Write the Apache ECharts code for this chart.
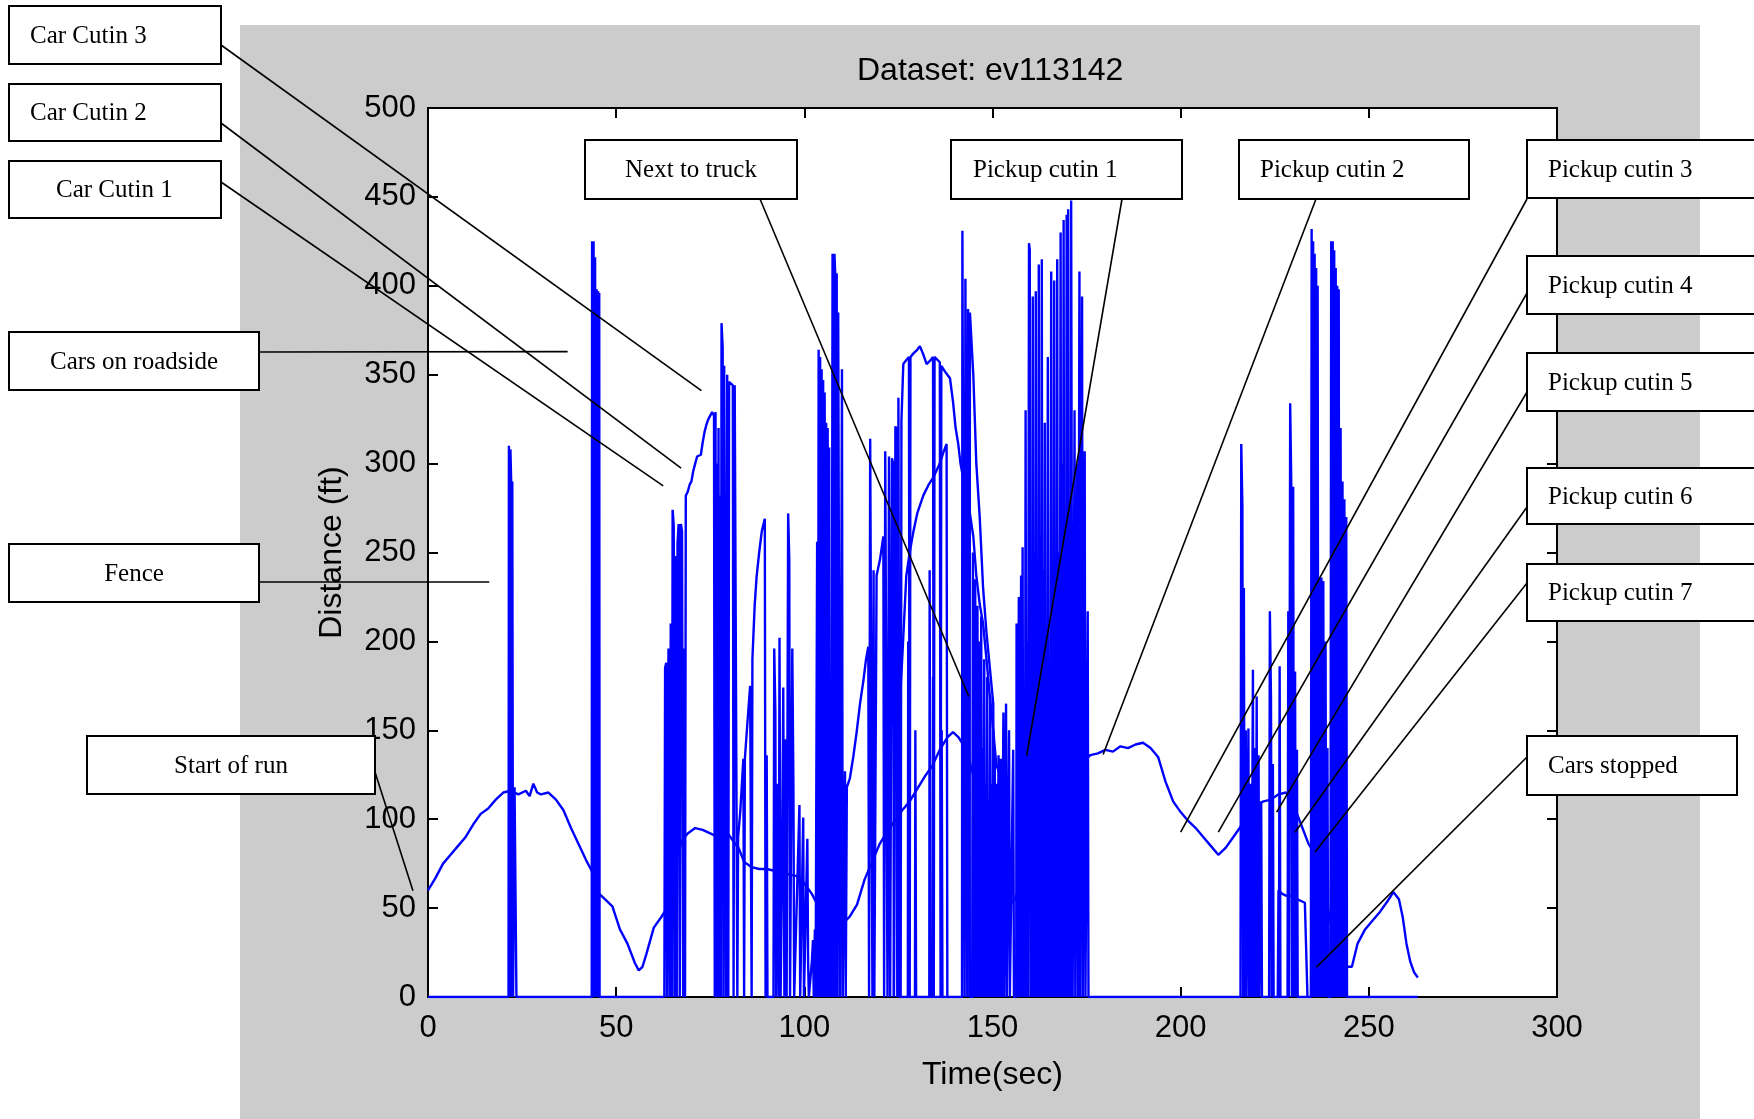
<!DOCTYPE html>
<html><head><meta charset="utf-8">
<script src="https://cdn.jsdelivr.net/npm/echarts@6/dist/echarts.min.js"></script>
<style>html,body{margin:0;padding:0;background:#fff}#c{width:1754px;height:1119px}</style>
</head><body><div id="c"></div>
<script>
// ---------------- DATA ----------------
const xTicks = [0, 50, 100, 150, 200, 250, 300];
const yTicks = [0, 50, 100, 150, 200, 250, 300, 350, 400, 450, 500];

// main (lead vehicle) track
const leadTime = [0,2,4,6,8,10,12,14,16,18,20,22,24,26,27,28,29,30,32,34,36,38,40,42,43.5,45.5,47,49,51,53,55,56,57,58,60,62,63.5,64.5,66,67.5,69,71,73,75,77,79,81,82.5,84,86,88,90,92,94,96,98,100,102,104,106,108,110,112,114,116,118,120,122,124,126,128,130,132,134,136,138,139.5,141,143,145,147,149,151,153,154.5,156,158,160,162,164,166,168,170,172,174,176,178,180,182,184,186,188,190,192,194,196,198,200,202,204,206,208,210,212,214,216,218,220,222,224,226,228,230,232,234,236,238,240,242,244,245.5,247,249,251,253,255,256.5,258,259,260,261,262,263];
const leadDist = [60,67,75,80,85,90,97,103,106,111,115,116,114,116,113,120,115,114,115,111,105,95,86,77,71,58,55,51,38,30,19,15,17,24,39,45,50,57,78,88,92,95,94,92,90,94,88,84,76,73,72,72,71,70,69,68,64,58,50,43,42,41,45,52,66,76,86,93,99,105,110,117,124,130,139,146,149,146,139,124,116,106,80,58,52,55,67,77,84,92,98,110,122,128,132,136,137,139,138,141,140,142,143,140,135,121,110,104,99,95,90,85,80,84,90,96,102,108,110,111,114,115,108,97,86,80,62,40,25,17,17,30,38,43,48,54,59,55,45,30,20,14,11];

// other radar targets: [time, distance] samples, 0 = no target
const spikesEarly = [[21.4,0],[21.5,310],[21.8,0],[21.9,308],[22.1,290],[22.3,0],[22.4,290],[22.6,0],[22.9,0],[23.0,118],[23.4,117],[23.5,0],
 [43.5,0],[43.6,425],[43.8,0],[44.0,425],[44.2,0],[44.4,416],[44.6,0],[44.8,398],[45.0,0],[45.2,397],[45.4,0],[45.5,396],[45.6,0]];
const cutinLadder = [[62.8,0],[63.0,185],[63.3,188],[63.5,0],[63.8,0],[63.9,196],[64.2,0],[64.5,210],[64.8,0],[65.0,274],[65.3,265],[65.5,0],[65.8,248],[66.1,0],[66.3,255],[66.6,266],[66.9,0],[67.2,266],[67.5,262],[67.8,0],[68.0,196],[68.3,0],[68.5,282],[69.0,284],[69.5,288],[70.0,290],[70.5,296],[71.0,300],[71.5,304],[72.0,305],[72.5,305],[73.0,312],[73.5,318],[74.0,322],[74.5,325],[75.0,327],[75.5,329],[76.0,327],[76.2,0],[76.4,329],[76.6,0],[76.8,300],[77.0,0],[77.2,320],[77.4,0],[77.6,282],[77.8,0],[78.0,379],[78.3,365],[78.5,0],[78.7,355],[79.0,355],[79.2,0],[79.5,350],[79.8,0],[80.0,346],[80.5,346],[81.0,344],[81.2,0],[81.5,344],[82.0,344],[82.2,0]];
const truckZone = [[82.3,0],[82.4,90],[83.0,105],[83.8,134],[84.0,0],[84.2,134],[84.8,152],[85.6,175],[86.0,0],[86.2,190],[86.8,220],[87.3,236],[88.0,250],[88.7,262],[89.5,269],[89.7,0],[90.0,136],[90.2,0],[91.8,0],[92.0,196],[92.3,161],[92.5,0],[93.0,120],[93.2,0],[93.4,202],[93.7,0],[94.2,100],[94.4,174],[94.7,0],[95.0,145],[95.3,0],[95.7,272],[96.0,246],[96.2,0],[96.8,196],[97.1,118],[97.3,0],[98.7,108],[98.9,0],[99.7,101],[99.9,0],[100.8,89],[101.0,20],[101.2,0],[102.0,20],[102.3,32],[102.5,0],[102.8,38],[103.0,0],[103.4,256],[103.6,0],[103.8,364],[104.0,0],[104.2,360],[104.4,0],[104.6,353],[104.8,0],[105.0,347],[105.2,0],[105.4,340],[105.6,0],[105.8,323],[106.0,0],[106.2,320],[106.4,0],[106.6,309],[106.8,0],[107.0,149],[107.2,0],[107.5,418],[107.8,0],[108.0,418],[108.2,407],[108.4,0],[108.6,407],[108.8,0],[109.0,385],[109.3,385],[109.5,0],[109.7,123],[110.0,353],[110.2,0],[110.8,127],[111.0,0],
 [111.2,0],[111.3,118],[112.1,123],[113.0,135],[113.9,149],[114.8,165],[115.7,178],[116.4,190],[117.0,197],[117.2,0],[117.5,314],[117.9,314],[118.1,0],[118.4,240],[118.6,0],[119.2,237],[120.1,246],[121.0,259],[121.2,0],[121.5,307],[121.9,307],[122.1,0],[122.5,304],[122.8,0],[123.3,303],[123.6,300],[123.8,0],[124.2,321],[124.5,319],[124.7,0],[125.0,337],[125.3,0]];
const midZone = [[127.5,0],[127.6,200],[127.8,0],[129.4,0],[129.5,150],[129.7,0],[133.2,0],[133.3,240],[133.5,0],[134.1,0],[134.2,180],[134.4,0],[136.4,0],[136.5,150],[136.7,0],[141.9,0],[142.0,431],[142.4,430],[142.6,0],[142.8,404],[143.1,404],[143.3,0],[143.5,387],[143.8,387],[144.0,0],[144.6,0],[144.8,250],[145.0,0],[145.4,235],[145.6,0],[146.0,220],[146.2,0],[146.6,200],[146.8,0],[147.0,214],[147.2,0],[147.4,140],[147.6,0],[147.8,190],[148.0,0],[148.2,120],[148.4,0],[148.6,180],[148.8,0],[149.0,110],[149.2,0],[149.4,169],[149.6,0],[149.8,120],[150.0,0],[150.2,150],[150.4,0],[150.6,140],[150.8,0],[151.0,120],[151.2,0],[151.6,136],[151.8,0],[152.2,134],[152.4,0],[152.9,160],[153.1,0],[153.6,165],[153.8,0],[154.4,150],[154.6,0],[155.5,139],[155.7,0],[156.3,0],[156.4,210],[156.6,0],[157.0,225],[157.2,0],[157.6,237],[157.8,0]];
const pickupZoneA = [[158.0,253],[158.2,0],[158.4,150],[158.6,0],[158.8,330],[159.0,0],[159.2,200],[159.4,0],[159.7,424],[159.9,420],[160.1,0],[160.3,220],[160.5,0],[160.7,394],[160.9,0],[161.1,250],[161.3,0],[161.5,397],[161.7,0],[161.9,230],[162.1,0],[162.3,412],[162.5,0],[162.7,260],[162.9,0],[163.1,415],[163.3,0],[163.5,240],[163.7,0],[163.9,323],[164.1,0],[164.3,180],[164.5,0],[164.7,360],[164.9,0],[165.1,150],[165.3,0],[165.6,408],[165.8,0],[166.0,200],[166.2,0],[166.4,403],[166.6,0],[166.8,170],[167.0,0],[167.2,415],[167.4,0],[167.6,250],[167.8,0],[168.1,430],[168.3,0],[168.5,300],[168.7,0],[168.9,437],[169.1,0],[169.3,200],[169.5,0],[169.7,440],[169.9,0],[170.1,443],[170.3,0],[170.5,260],[170.7,0],[170.9,448],[171.1,449],[171.3,0],[171.8,330],[172.0,0],[172.5,300],[172.7,0],[173.1,408],[173.3,0],[173.8,394],[174.0,0],[174.5,307],[174.7,0],[175.3,217],[175.5,0]];
const pickupZoneB = [[215.9,0],[216.1,311],[216.4,276],[216.6,0],[216.8,230],[217.0,0],[217.3,150],[217.5,0],[218.0,151],[218.2,0],[218.6,120],[218.8,0],[219.2,184],[219.4,0],[219.7,140],[219.9,0],[220.2,169],[220.4,0],[220.7,136],[220.9,0],[221.4,110],[221.6,0],[223.5,0],[223.7,217],[224.0,168],[224.2,0],[224.5,131],[224.7,0],[226.1,0],[226.3,186],[226.5,0],[228.4,0],[228.6,217],[228.8,0],[229.1,334],[229.4,287],[229.6,0],[229.9,287],[230.1,0],[230.4,183],[230.6,0],[230.9,139],[231.1,0],[234.6,0],[234.8,432],[235.0,0],[235.2,425],[235.4,0],[235.6,418],[235.8,0],[236.0,410],[236.2,0],[236.4,400],[236.6,0],[236.9,236],[237.1,0],[237.4,236],[237.6,0],[237.9,234],[238.1,0],[238.5,200],[238.7,0],[239.0,140],[239.2,0],[239.8,0],[240.0,425],[240.2,0],[240.4,425],[240.6,0],[240.8,420],[241.0,0],[241.2,410],[241.4,0],[241.6,400],[241.8,0],[242.0,398],[242.2,0],[242.5,320],[242.7,0],[243.0,290],[243.2,0],[243.5,280],[243.7,0],[244.0,270],[244.2,0]];
const baselineEnds = [[0,0],[263,0]];
const plateauTrack = [[125.6,0],[125.8,324],[126.3,356],[127.0,358],[127.8,360],[128.0,0],[128.2,360],[129.0,362],[130.0,364],[130.7,366],[131.5,362],[132.5,356],[133.5,358],[134.2,360],[134.4,0],[134.6,360],[135.1,360],[136.0,357],[136.2,0],[136.4,355],[137.3,352],[138.0,350],[138.7,348],[139.5,335],[140.2,320],[140.9,311],[141.5,300],[142.2,292],[143.1,282],[144.0,272],[144.9,259],[145.7,237],[146.6,221],[147.5,210],[148.4,190],[149.3,169],[150.2,150],[151.0,131],[151.9,125],[152.4,125],[152.6,0]];
const riserTrack = [[123.8,0],[124.0,120],[125.0,150],[126.0,190],[127.1,237],[128.0,250],[129.0,262],[130.0,272],[131.6,282],[133.0,288],[134.2,292],[135.1,296],[136.0,300],[136.9,306],[137.8,311],[138.0,0]];
const fallTrack = [[143.9,0],[144.0,385],[144.9,350],[145.7,300],[146.6,270],[147.5,230],[148.4,205],[149.3,185],[150.2,165],[150.5,0]];
const lowTrack = [[225.8,0],[226.0,60],[227.0,58],[228.0,57],[229.0,57],[230.0,56],[231.0,55],[232.0,54],[233.0,53],[233.5,52],[233.7,0]];

// callouts: label text and the data point each leader line points to
const calloutText = ['Car Cutin 3','Car Cutin 2','Car Cutin 1','Cars on roadside','Fence','Start of run','Next to truck','Pickup cutin 1','Pickup cutin 2','Pickup cutin 3','Pickup cutin 4','Pickup cutin 5','Pickup cutin 6','Pickup cutin 7','Cars stopped'];
const calloutTime = [72.65, 67.25, 62.5, 37.1, 16.3, -4.0, 143.7, 159.1, 179.4, 200.0, 210.0, 225.5, 230.4, 235.7, 236.1];
const calloutDist = [341, 297.5, 287.5, 363, 233.4, 59.8, 169, 135.8, 136.4, 92.7, 92.7, 104, 92.7, 81.5, 16.8];

// ---------------- LAYOUT (pixels) ----------------
const boxLayout = [
  [9,6,221,64,'left',30],[9,84,221,141,'left',30],[9,161,221,218,'left',56],
  [9,332,259,390,'center'],[9,544,259,602,'center'],[87,736,375,794,'center'],
  [585,140,797,199,'center'],[951,140,1182,199,'left',973],[1239,140,1469,199,'left',1260],
  [1527,140,1760,198,'left',1548],[1527,256,1760,314,'left',1548],[1527,353,1760,411,'left',1548],
  [1527,468,1760,524,'left',1548],[1527,564,1760,621,'left',1548],[1527,736,1737,795,'left',1548]
];
const leaderStart = [[221,45],[221,123],[221,182],[259,352],[259,582],[375,772],[760,199],[1122,199],[1316,199],[1527,199],[1527,293],[1527,392],[1527,507],[1527,583],[1527,757]];

// ---------------- CHART ----------------
const BLUE = '#0000ff';
const leadData = leadTime.map((t, i) => [t, leadDist[i]]);
const otherData = [baselineEnds[0]].concat(spikesEarly, cutinLadder, truckZone, midZone, pickupZoneA, pickupZoneB, [baselineEnds[1]]);

function trackSeries(name, data) {
  return { name, type: 'line', data, xAxisIndex: 0, yAxisIndex: 0, symbol: 'none', showSymbol: false,
    lineStyle: { color: BLUE, width: 2.4 }, itemStyle: { color: BLUE }, silent: true, animation: false, z: 3, clip: true };
}

const chart = echarts.init(document.getElementById('c'), null, { renderer: 'canvas' });
const axisFont = { fontFamily: 'Liberation Sans, Arial, sans-serif', color: '#000' };
const lineStyleBlack = { color: '#000', width: 2 };

chart.setOption({
  backgroundColor: '#ffffff',
  animation: false,
  title: {
    text: 'Dataset: ev113142', left: 852, top: 50,
    textStyle: { fontSize: 32, fontWeight: 'normal', fontFamily: 'Liberation Sans, Arial, sans-serif', color: '#000' }
  },
  grid: { left: 428, top: 108, right: 197, bottom: 122, show: true, backgroundColor: '#ffffff', borderColor: '#000', borderWidth: 2, containLabel: false },
  xAxis: [
    { type: 'value', position: 'bottom', min: 0, max: 300, interval: 50,
      name: 'Time(sec)', nameLocation: 'middle', nameGap: 62,
      nameTextStyle: Object.assign({ fontSize: 32 }, axisFont),
      axisLine: { show: true, onZero: false, lineStyle: lineStyleBlack },
      axisTick: { show: true, inside: true, length: 10, lineStyle: lineStyleBlack },
      axisLabel: Object.assign({ fontSize: 31, margin: 16, formatter: v => xTicks.includes(v) ? String(v) : '' }, axisFont),
      splitLine: { show: false } },
    { type: 'value', position: 'top', min: 0, max: 300, interval: 50,
      axisLine: { show: true, onZero: false, lineStyle: lineStyleBlack },
      axisTick: { show: true, inside: true, length: 10, lineStyle: lineStyleBlack },
      axisLabel: { show: false }, splitLine: { show: false } }
  ],
  yAxis: [
    { type: 'value', position: 'left', min: 0, max: 500, interval: 50,
      name: 'Distance (ft)', nameLocation: 'middle', nameGap: 80, nameRotate: 90,
      nameTextStyle: Object.assign({ fontSize: 32 }, axisFont),
      axisLine: { show: true, onZero: false, lineStyle: lineStyleBlack },
      axisTick: { show: true, inside: true, length: 10, lineStyle: lineStyleBlack },
      axisLabel: Object.assign({ fontSize: 31, margin: 12, formatter: v => yTicks.includes(v) ? String(v) : '' }, axisFont),
      splitLine: { show: false } },
    { type: 'value', position: 'right', min: 0, max: 500, interval: 50,
      axisLine: { show: true, onZero: false, lineStyle: lineStyleBlack },
      axisTick: { show: true, inside: true, length: 10, lineStyle: lineStyleBlack },
      axisLabel: { show: false }, splitLine: { show: false } }
  ],
  series: [
    trackSeries('other targets', otherData),
    trackSeries('plateau', plateauTrack),
    trackSeries('riser', riserTrack),
    trackSeries('fall', fallTrack),
    trackSeries('low', lowTrack),
    trackSeries('lead', leadData)
  ]
});

// callout boxes and leader lines (leader ends placed through the chart's own scales)
const elements = [{
  type: 'rect', z: -100, silent: true,
  shape: { x: 240, y: 25, width: 1460, height: 1094 },
  style: { fill: '#cccccc' }
}];
calloutText.forEach((txt, i) => {
  const b = boxLayout[i];
  const end = chart.convertToPixel({ xAxisIndex: 0, yAxisIndex: 0 }, [calloutTime[i], calloutDist[i]]);
  elements.push({ type: 'line', z: 100, silent: true,
    shape: { x1: leaderStart[i][0], y1: leaderStart[i][1], x2: end[0], y2: end[1] },
    style: { stroke: '#000', lineWidth: 1.6 } });
  elements.push({ type: 'rect', z: 101, silent: true,
    shape: { x: b[0], y: b[1], width: b[2] - b[0], height: b[3] - b[1] },
    style: { fill: '#ffffff', stroke: '#000', lineWidth: 2 } });
  const tx = b[4] === 'center' ? (b[0] + b[2]) / 2 : b[5];
  elements.push({ type: 'text', z: 102, silent: true,
    style: { text: txt, x: tx, y: (b[1] + b[3]) / 2 + 1,
      font: '25px "Liberation Serif", "Times New Roman", serif', fill: '#000',
      textAlign: b[4], align: b[4], textVerticalAlign: 'middle', verticalAlign: 'middle' } });
});
chart.setOption({ graphic: { elements } });
</script>
</body></html>
